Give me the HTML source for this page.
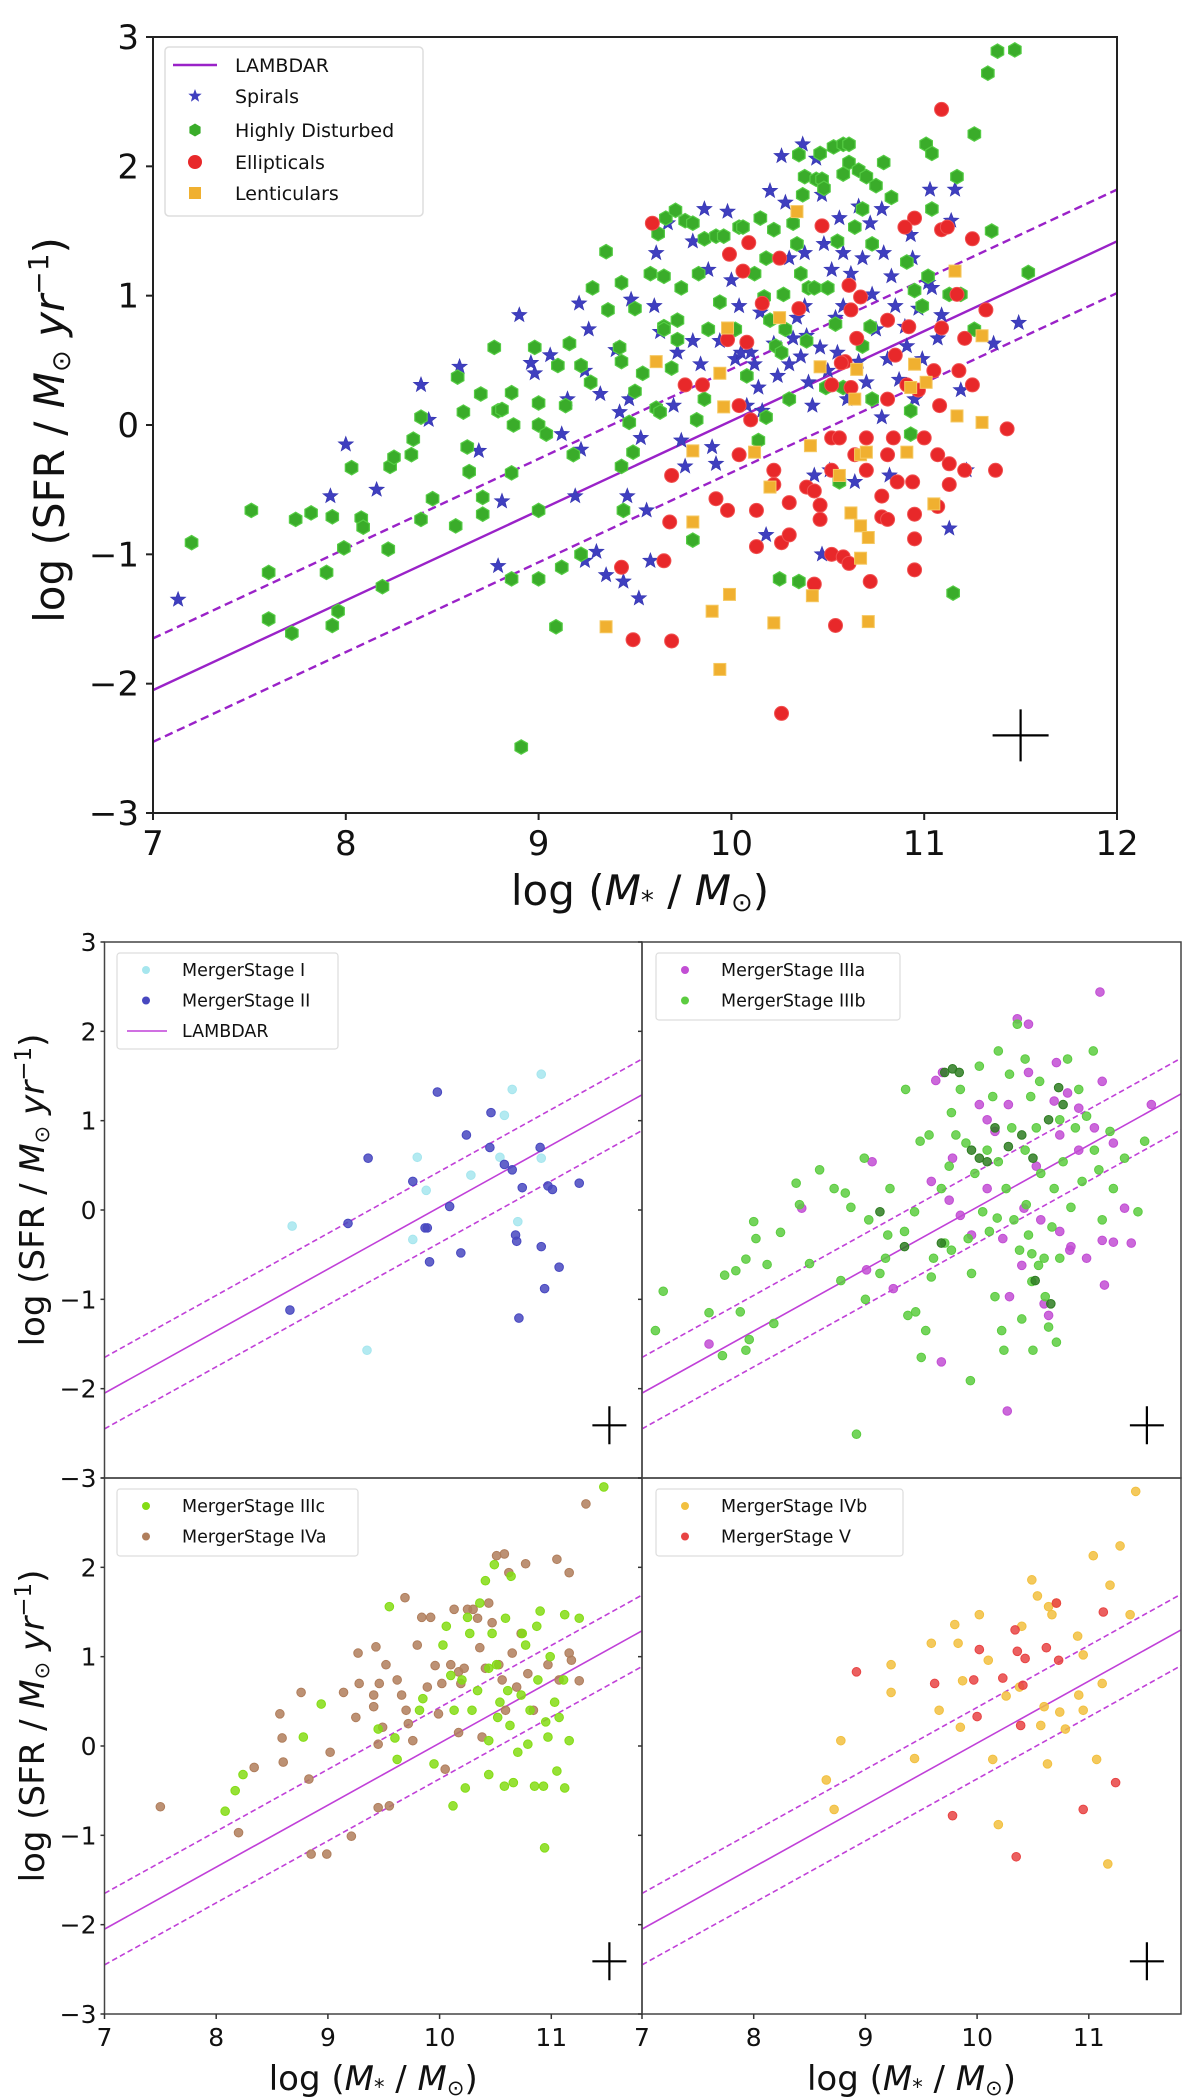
<!DOCTYPE html>
<html><head><meta charset="utf-8"><style>
html,body{margin:0;padding:0;background:#fff;}
svg{display:block;font-family:"DejaVu Sans","Liberation Sans",sans-serif;}
</style></head><body>
<svg id="fig" width="1200" height="2098" viewBox="0 0 1200 2098" xmlns="http://www.w3.org/2000/svg"></svg>
<script>
// ===== Top panel data (log M*, log SFR) =====
const spirals=[[7.13,-1.35],[7.92,-0.55],[8.00,-0.15],[8.16,-0.50],[8.39,0.31],[8.43,0.04],[8.59,0.45],[8.69,-0.20],[8.79,-1.09],[8.81,-0.59],[8.90,0.85],[8.96,0.48],[8.98,0.40],[9.06,0.54],[9.12,-0.07],[9.15,0.20],[9.19,-0.55],[9.21,0.94],[9.22,-0.19],[9.24,0.42],[9.24,-1.05],[9.26,0.74],[9.30,-0.98],[9.32,0.24],[9.35,-1.16],[9.40,0.58],[9.42,0.10],[9.44,-1.21],[9.46,-0.55],[9.47,0.20],[9.48,0.97],[9.52,-1.34],[9.53,-0.10],[9.56,-0.66],[9.58,-1.05],[9.60,0.92],[9.61,1.33],[9.63,0.72],[9.67,1.56],[9.70,0.15],[9.72,0.56],[9.74,-0.12],[9.76,-0.32],[9.80,1.42],[9.80,0.65],[9.84,0.47],[9.86,1.67],[9.88,1.20],[9.90,-0.17],[9.92,-0.30],[9.94,0.65],[9.98,1.65],[10.0,1.12],[10.02,0.51],[10.04,0.92],[10.05,0.56],[10.08,0.15],[10.10,0.56],[10.12,0.47],[10.14,0.29],[10.15,0.87],[10.16,0.11],[10.20,1.81],[10.22,0.63],[10.24,0.38],[10.26,2.08],[10.28,1.72],[10.30,1.29],[10.30,0.47],[10.32,0.67],[10.34,0.83],[10.36,0.53],[10.37,2.17],[10.38,1.33],[10.38,0.92],[10.39,0.69],[10.40,0.33],[10.42,0.15],[10.44,2.06],[10.46,0.60],[10.47,1.78],[10.48,1.40],[10.50,0.42],[10.51,-0.35],[10.52,1.20],[10.54,0.83],[10.55,0.56],[10.56,1.60],[10.58,1.33],[10.58,0.92],[10.60,0.20],[10.62,1.17],[10.64,-0.44],[10.66,1.69],[10.66,0.49],[10.68,1.29],[10.70,0.33],[10.72,1.56],[10.73,1.01],[10.75,0.74],[10.78,1.67],[10.78,0.06],[10.79,1.33],[10.81,0.51],[10.82,-0.39],[10.83,1.15],[10.85,0.92],[10.87,0.35],[10.90,0.76],[10.91,0.61],[10.93,1.47],[10.94,1.29],[10.95,0.20],[10.97,0.90],[10.99,0.51],[11.02,1.10],[11.03,1.82],[11.04,1.06],[11.07,0.67],[11.09,0.85],[11.13,-0.80],[11.14,1.58],[11.16,1.82],[11.19,0.27],[11.22,-0.35],[11.36,0.63],[11.49,0.79],[10.18,-0.85],[10.47,-1.00],[10.43,-0.39]];
const disturbed=[[7.20,-0.91],[7.51,-0.66],[7.60,-1.14],[7.60,-1.50],[7.74,-0.73],[7.72,-1.61],[7.82,-0.68],[7.90,-1.14],[7.93,-0.71],[7.93,-1.55],[7.96,-1.44],[7.99,-0.95],[8.03,-0.33],[8.08,-0.72],[8.09,-0.79],[8.19,-1.25],[8.22,-0.96],[8.23,-0.32],[8.25,-0.25],[8.34,-0.23],[8.35,-0.11],[8.39,0.06],[8.39,-0.73],[8.45,-0.57],[8.57,-0.78],[8.58,0.37],[8.61,0.10],[8.63,-0.17],[8.64,-0.36],[8.70,0.24],[8.71,-0.69],[8.71,-0.56],[8.77,0.60],[8.79,0.11],[8.81,0.12],[8.86,-1.19],[8.86,0.25],[8.86,-0.37],[8.87,0.00],[8.91,-2.49],[8.98,0.60],[9.0,0.17],[9.0,-0.66],[9.0,0.0],[9.0,-1.19],[9.04,-0.07],[9.09,-1.56],[9.10,0.46],[9.12,-1.10],[9.14,0.15],[9.16,0.63],[9.18,-0.23],[9.22,-1.0],[9.22,0.46],[9.27,0.33],[9.28,1.06],[9.35,1.34],[9.36,0.89],[9.42,0.60],[9.43,0.49],[9.43,-0.32],[9.43,1.10],[9.44,-0.66],[9.47,0.02],[9.49,-0.21],[9.50,0.90],[9.50,0.26],[9.54,0.40],[9.58,1.17],[9.61,0.13],[9.63,0.10],[9.62,1.48],[9.65,0.76],[9.65,1.15],[9.65,0.74],[9.66,1.60],[9.69,0.44],[9.71,1.66],[9.72,0.81],[9.72,0.66],[9.74,1.06],[9.76,1.58],[9.80,1.56],[9.80,-0.89],[9.82,0.04],[9.83,1.17],[9.86,1.44],[9.86,0.20],[9.88,0.74],[9.92,1.46],[9.94,0.95],[9.96,1.46],[10.02,0.74],[10.04,1.53],[10.06,1.53],[10.08,0.38],[10.12,1.17],[10.14,-0.12],[10.15,1.60],[10.17,0.99],[10.18,0.06],[10.18,1.29],[10.20,0.81],[10.22,1.51],[10.23,0.61],[10.25,-1.19],[10.26,0.56],[10.27,1.01],[10.28,0.74],[10.30,0.20],[10.32,1.56],[10.34,1.40],[10.35,2.09],[10.35,-1.21],[10.36,1.17],[10.38,1.92],[10.37,1.78],[10.39,0.65],[10.40,1.06],[10.43,1.06],[10.44,1.90],[10.46,2.10],[10.47,1.90],[10.48,1.83],[10.49,0.29],[10.50,1.06],[10.53,2.15],[10.54,0.78],[10.55,1.42],[10.56,-0.44],[10.58,1.94],[10.58,0.29],[10.58,2.17],[10.61,2.03],[10.61,2.17],[10.64,1.53],[10.66,1.97],[10.68,1.67],[10.68,0.61],[10.70,1.92],[10.72,0.76],[10.73,1.40],[10.75,1.85],[10.73,0.20],[10.79,2.03],[10.83,1.76],[10.91,1.26],[10.93,0.11],[10.95,1.04],[10.99,0.92],[10.93,-0.07],[11.01,2.17],[11.02,1.15],[11.04,2.10],[11.04,1.67],[11.13,1.01],[11.17,1.92],[11.19,1.01],[11.15,-1.30],[11.26,2.25],[11.26,0.74],[11.33,2.72],[11.35,1.50],[11.38,2.89],[11.47,2.90],[11.54,1.18]];
const ellipticals=[[9.59,1.56],[11.09,2.44],[10.09,1.41],[9.99,1.32],[10.06,1.19],[10.25,1.29],[10.47,1.54],[10.35,0.90],[10.16,0.94],[10.62,0.89],[10.67,0.99],[10.61,1.08],[10.95,1.60],[10.90,1.53],[11.09,1.51],[11.12,1.53],[11.25,1.44],[11.17,1.01],[11.32,0.89],[10.81,0.81],[10.92,0.76],[11.09,0.75],[9.98,0.66],[10.08,0.64],[10.65,0.67],[10.59,0.49],[10.57,0.48],[10.85,0.54],[11.05,0.42],[11.18,0.42],[11.21,0.67],[9.76,0.31],[9.85,0.31],[10.52,0.31],[10.62,0.29],[10.91,0.31],[10.97,0.27],[10.81,0.20],[11.08,0.15],[11.25,0.31],[10.04,0.15],[10.10,0.04],[11.43,-0.03],[10.04,-0.23],[10.52,-0.10],[10.56,-0.10],[10.70,-0.10],[10.84,-0.10],[11.00,-0.10],[10.64,-0.23],[10.70,-0.35],[10.81,-0.23],[11.07,-0.23],[11.13,-0.30],[11.21,-0.35],[11.37,-0.35],[10.52,-0.35],[10.22,-0.35],[10.22,-0.46],[10.86,-0.44],[10.94,-0.44],[11.13,-0.46],[10.39,-0.48],[10.43,-0.51],[10.30,-0.60],[10.46,-0.62],[9.92,-0.57],[9.98,-0.66],[10.13,-0.66],[10.78,-0.55],[10.95,-0.69],[11.07,-0.63],[10.46,-0.73],[10.78,-0.71],[10.81,-0.73],[9.68,-0.75],[9.69,-0.39],[10.26,-0.91],[10.30,-0.85],[10.13,-0.94],[10.95,-0.88],[10.52,-1.0],[10.58,-1.02],[10.61,-1.07],[9.65,-1.05],[9.43,-1.10],[10.95,-1.12],[10.72,-1.21],[10.43,-1.23],[10.54,-1.55],[9.49,-1.66],[9.69,-1.67],[10.26,-2.23]];
const lenticulars=[[10.34,1.65],[11.16,1.19],[9.98,0.75],[10.25,0.83],[11.30,0.69],[9.61,0.49],[9.94,0.40],[10.46,0.45],[10.65,0.43],[10.95,0.47],[10.64,0.20],[10.93,0.29],[11.01,0.33],[9.96,0.14],[11.17,0.07],[11.30,0.02],[9.80,-0.20],[10.12,-0.21],[10.41,-0.16],[10.67,-0.23],[10.70,-0.21],[10.91,-0.21],[10.56,-0.39],[10.20,-0.48],[11.05,-0.61],[10.62,-0.68],[10.67,-0.78],[10.71,-0.87],[9.80,-0.75],[10.67,-1.03],[9.99,-1.31],[10.42,-1.32],[9.90,-1.44],[9.35,-1.56],[10.22,-1.53],[10.71,-1.52],[9.94,-1.89]];
// ===== Merger stage panels =====
const stageI=[[8.68,-0.18],[9.35,-1.57],[9.80,0.59],[9.88,0.22],[9.76,-0.33],[10.28,0.39],[10.58,1.06],[10.65,1.35],[10.91,1.52],[10.70,-0.13],[10.91,0.58],[10.54,0.59]];
const stageII=[[8.66,-1.12],[9.18,-0.15],[9.36,0.58],[9.76,0.32],[9.98,1.32],[9.87,-0.20],[9.89,-0.20],[9.91,-0.58],[10.09,0.04],[10.19,-0.48],[10.24,0.84],[10.46,1.09],[10.45,0.70],[10.58,0.51],[10.65,0.45],[10.74,0.25],[10.68,-0.28],[10.69,-0.35],[10.71,-1.21],[10.90,0.70],[10.91,-0.41],[10.94,-0.88],[10.97,0.27],[11.01,0.23],[11.07,-0.64],[11.25,0.30]];
const stageIIIa=[[11.10,2.44],[10.36,2.14],[10.46,2.08],[9.63,1.45],[9.69,1.54],[10.02,1.18],[10.09,1.01],[10.16,0.88],[10.28,1.18],[10.46,1.54],[10.71,1.65],[10.81,1.31],[10.91,1.14],[11.12,1.44],[11.05,0.92],[11.22,0.75],[11.56,1.18],[9.06,0.54],[9.59,0.32],[9.75,0.11],[9.85,-0.06],[9.95,-0.28],[10.09,0.24],[10.23,-0.32],[10.42,0.02],[10.57,-0.11],[10.74,-0.24],[10.84,-0.41],[10.98,-0.54],[11.12,-0.34],[11.22,-0.36],[11.38,-0.37],[11.32,0.02],[10.29,-0.97],[10.40,-0.62],[10.60,-1.05],[10.64,-1.18],[10.83,-0.45],[11.14,-0.84],[9.68,-1.70],[10.27,-2.25],[9.25,-0.88],[9.01,-0.67],[8.43,0.02],[7.60,-1.50],[9.78,0.58],[10.74,0.84],[10.91,0.67],[10.53,0.49],[10.69,1.22]];
const stageIIIb=[[7.19,-0.91],[7.12,-1.35],[7.60,-1.15],[7.72,-1.63],[7.74,-0.73],[7.84,-0.68],[7.93,-0.55],[7.88,-1.14],[7.93,-1.57],[7.96,-1.45],[8.0,-0.13],[8.02,-0.32],[8.18,-1.27],[8.12,-0.61],[8.24,-0.25],[8.38,0.30],[8.41,0.06],[8.59,0.45],[8.50,-0.60],[8.72,0.24],[8.82,0.19],[8.87,0.03],[8.92,-2.51],[8.99,0.58],[8.78,-0.79],[9.13,-0.71],[9.18,-0.54],[9.22,0.24],[9.35,-0.24],[9.36,1.35],[9.38,-1.18],[9.45,-1.14],[9.50,-1.65],[9.54,-1.35],[9.44,-0.02],[9.49,0.77],[9.57,0.84],[9.61,-0.54],[9.68,0.24],[9.71,-0.37],[9.75,0.49],[9.77,1.09],[9.81,0.84],[9.85,1.35],[9.90,0.75],[9.94,-1.91],[9.95,-0.71],[9.98,0.41],[10.02,1.61],[10.05,-0.02],[10.09,0.67],[10.14,1.27],[10.16,-0.97],[10.19,1.78],[10.19,0.54],[10.22,-1.35],[10.24,-1.57],[10.26,0.24],[10.29,1.52],[10.31,0.92],[10.33,-0.11],[10.36,2.08],[10.38,-0.45],[10.40,-1.22],[10.43,1.69],[10.43,0.67],[10.44,0.06],[10.48,1.27],[10.49,-0.49],[10.50,-1.57],[10.53,0.92],[10.55,-0.62],[10.56,1.44],[10.57,0.41],[10.61,-0.97],[10.64,-1.31],[10.67,-0.19],[10.69,0.24],[10.71,-1.48],[10.74,1.01],[10.77,0.54],[10.81,1.69],[10.84,0.03],[10.88,0.92],[10.91,1.35],[10.94,0.32],[10.98,1.05],[11.04,1.78],[11.05,0.67],[11.09,0.45],[11.12,-0.11],[11.19,0.88],[11.22,0.24],[11.32,0.58],[11.44,-0.02],[11.50,0.77],[9.59,-0.75],[9.20,-0.28],[9.00,-1.00],[9.03,-0.11],[9.77,-0.45],[9.92,-0.32],[10.11,-0.24],[10.46,-0.28],[10.60,-0.54],[10.74,-0.54],[10.18,-0.09],[10.49,-0.80]];
const stageIIIbOverlap=[[9.71,1.54],[9.78,1.58],[9.84,1.54],[9.95,0.67],[10.02,0.58],[10.16,0.92],[10.28,0.71],[10.40,0.84],[10.50,0.58],[10.64,1.01],[10.77,1.18],[10.73,1.37],[10.52,-0.79],[10.66,-1.05],[9.13,-0.02],[9.35,-0.41],[9.68,-0.37],[10.09,0.54]];
const stageIIIc=[[11.47,2.90],[8.08,-0.73],[8.17,-0.50],[8.24,-0.32],[8.78,0.10],[8.94,0.47],[9.45,0.19],[9.55,1.56],[9.60,0.09],[9.62,-0.15],[9.82,0.40],[9.85,0.53],[10.03,1.13],[10.06,1.34],[10.10,0.79],[10.12,-0.67],[10.13,0.40],[10.20,0.74],[10.23,-0.47],[10.25,1.44],[10.27,1.26],[10.29,0.40],[10.34,0.62],[10.36,1.60],[10.41,1.85],[10.44,-0.32],[10.44,0.87],[10.47,1.26],[10.49,2.03],[10.51,0.91],[10.52,0.32],[10.54,0.49],[10.58,-0.45],[10.59,1.43],[10.61,0.62],[10.63,0.23],[10.64,1.90],[10.66,-0.41],[10.70,-0.07],[10.73,0.57],[10.74,1.26],[10.77,1.13],[10.79,0.02],[10.81,0.40],[10.85,-0.45],[10.87,1.34],[10.88,0.74],[10.90,1.51],[10.93,-0.45],[10.94,-1.14],[10.95,0.27],[10.97,0.10],[10.99,1.0],[11.03,0.49],[11.05,-0.28],[11.07,0.32],[11.11,0.74],[11.12,-0.47],[11.16,0.06],[11.25,1.43],[11.12,1.47],[9.95,-0.20],[10.44,0.06]];
const stageIVa=[[7.50,-0.68],[8.20,-0.97],[8.34,-0.24],[8.57,0.36],[8.59,0.09],[8.60,-0.18],[8.76,0.60],[8.83,-0.37],[8.85,-1.21],[8.99,-1.21],[9.02,-0.07],[9.14,0.60],[9.21,-1.01],[9.25,0.32],[9.27,1.04],[9.41,0.57],[9.41,0.44],[9.43,1.11],[9.45,0.02],[9.46,0.70],[9.49,0.21],[9.52,0.91],[9.55,-0.67],[9.62,0.74],[9.66,0.57],[9.69,1.66],[9.70,0.40],[9.72,0.25],[9.80,1.13],[9.84,1.44],[9.89,0.66],[9.92,1.44],[9.96,0.90],[9.99,0.36],[10.02,0.70],[10.05,-0.26],[10.10,0.91],[10.13,1.53],[10.17,0.83],[10.17,0.15],[10.19,0.70],[10.22,0.87],[10.25,1.53],[10.30,1.53],[10.34,1.43],[10.36,1.10],[10.38,0.10],[10.41,0.87],[10.44,1.60],[10.47,1.38],[10.51,2.13],[10.53,0.91],[10.56,0.74],[10.58,2.15],[10.59,0.40],[10.62,1.94],[10.65,1.04],[10.69,0.66],[10.73,1.26],[10.77,2.04],[10.79,0.81],[10.84,0.40],[10.97,0.91],[11.05,2.09],[11.16,1.94],[11.16,1.04],[11.18,0.96],[11.25,0.73],[11.31,2.71],[11.07,0.74],[9.28,0.70],[9.76,0.06],[9.45,-0.69]];
const stageIVb=[[8.65,-0.38],[8.72,-0.71],[8.78,0.06],[9.23,0.91],[9.23,0.60],[9.44,-0.14],[9.59,1.15],[9.66,0.40],[9.80,1.36],[9.83,1.15],[9.85,0.21],[9.87,0.73],[10.02,1.47],[10.10,0.96],[10.14,-0.15],[10.19,-0.88],[10.26,0.56],[10.38,0.66],[10.40,1.34],[10.49,1.86],[10.54,1.68],[10.57,0.23],[10.60,0.44],[10.63,-0.20],[10.64,1.56],[10.67,1.47],[10.71,1.60],[10.74,0.38],[10.79,0.19],[10.90,1.23],[10.91,0.57],[10.95,1.02],[10.95,0.40],[11.04,2.13],[11.07,-0.15],[11.12,0.70],[11.17,-1.32],[11.19,1.80],[11.28,2.24],[11.37,1.47],[11.42,2.85]];
const stageV=[[8.92,0.83],[9.62,0.70],[9.78,-0.78],[9.97,0.74],[10.02,1.08],[10.0,0.33],[10.23,0.76],[10.34,1.30],[10.36,1.06],[10.35,-1.24],[10.39,0.23],[10.43,0.98],[10.62,1.10],[10.71,1.60],[10.73,0.96],[11.13,1.50],[10.95,-0.71],[11.24,-0.41],[10.41,0.68]];
// Relation and error bar
const lambdarIntercept=-2.05, lambdarSlope=0.694, lambdarScatter=0.4;
const errX=[11.5,11.52], errY=[-2.4,-2.41];
const xTicksTop=[7,8,9,10,11,12];
const yTicks=[-3,-2,-1,0,1,2,3];
const xTicksLow=[7,8,9,10,11];

const NS="http://www.w3.org/2000/svg";
const svg=document.getElementById('fig');
function el(tag,attrs,parent){const e=document.createElementNS(NS,tag);for(const k in attrs)e.setAttribute(k,attrs[k]);(parent||svg).appendChild(e);return e;}
function txt(s,attrs,parent){const e=el('text',attrs,parent);e.textContent=s;return e;}

function makeAxes(o){ // o: left, right, top, bottom, xmin, xmax, ymin, ymax
  o.sx=x=>o.left+(x-o.xmin)/(o.xmax-o.xmin)*(o.right-o.left);
  o.sy=y=>o.bottom-(y-o.ymin)/(o.ymax-o.ymin)*(o.bottom-o.top);
  return o;
}
function drawLines(ax,g,sw,col){
  const x0=ax.xmin,x1=ax.xmax;
  const f=x=>lambdarIntercept+lambdarSlope*(x-7);
  let l=el('line',{x1:ax.sx(x0),y1:ax.sy(f(x0)),x2:ax.sx(x1),y2:ax.sy(f(x1)),stroke:col,'stroke-width':sw},g);
  
  for(const d of [lambdarScatter,-lambdarScatter]){
    let m=el('line',{x1:ax.sx(x0),y1:ax.sy(f(x0)+d),x2:ax.sx(x1),y2:ax.sy(f(x1)+d),stroke:col,'stroke-width':sw,'stroke-dasharray':(sw*3.5)+','+(sw*2)},g);
    
    
  }
}
function drawCross(ax,cx,cy,hw,hh,g){
  const x=ax.sx(cx),y=ax.sy(cy);
  const c=el('path',{d:`M${x-hw},${y}H${x+hw}M${x},${y-hh}V${y+hh}`,stroke:'#000','stroke-width':2.2,fill:'none'},g);
  
}
function star(x,y,r){let p=[];for(let i=0;i<10;i++){const a=-Math.PI/2+i*Math.PI/5;const rr=i%2?r*0.42:r;p.push((x+rr*Math.cos(a)).toFixed(1)+','+(y+rr*Math.sin(a)).toFixed(1));}return p.join(' ');}
function hexa(x,y,r){let p=[];for(let i=0;i<6;i++){const a=Math.PI/2+i*Math.PI/3;p.push((x+r*Math.cos(a)).toFixed(1)+','+(y+r*Math.sin(a)).toFixed(1));}return p.join(' ');}

// ===== Top panel =====
const A=makeAxes({left:153,right:1117,top:37,bottom:813,xmin:7,xmax:12,ymin:-3,ymax:3});
const gTop=el('g',{});

drawLines(A,gTop,2.4,'#9a22c8');
const gS=el('g',{fill:'#3f3fbf',stroke:'#3535b0','stroke-width':0.6},gTop);

spirals.forEach(p=>{const e=el('polygon',{points:star(A.sx(p[0]),A.sy(p[1]),8)},gS);});
const gD=el('g',{fill:'#3aac2a',stroke:'#55cc44','stroke-width':1.2},gTop);

disturbed.forEach(p=>{const e=el('polygon',{points:hexa(A.sx(p[0]),A.sy(p[1]),7.2)},gD);});
const gE=el('g',{fill:'#e8282a',stroke:'#f05050','stroke-width':1},gTop);

ellipticals.forEach(p=>{const e=el('circle',{cx:A.sx(p[0]),cy:A.sy(p[1]),r:7},gE);});
const gL=el('g',{fill:'#f0b030',stroke:'#f5c860','stroke-width':1},gTop);

lenticulars.forEach(p=>{const e=el('rect',{x:A.sx(p[0])-6,y:A.sy(p[1])-6,width:12,height:12},gL);});
drawCross(A,errX[0],errY[0],28,26,gTop);
let fr=el('rect',{x:A.left,y:A.top,width:A.right-A.left,height:A.bottom-A.top,fill:'none',stroke:'#222','stroke-width':2},gTop);

xTicksTop.forEach(t=>{const x=A.sx(t);el('line',{x1:x,y1:A.bottom,x2:x,y2:A.bottom+7,stroke:'#222','stroke-width':2},gTop);
  const e=txt(String(t),{x:x,y:A.bottom+42,'font-size':34,'text-anchor':'middle',fill:'#111'},gTop);});
yTicks.forEach(t=>{const y=A.sy(t);el('line',{x1:A.left-7,y1:y,x2:A.left,y2:y,stroke:'#222','stroke-width':2},gTop);
  const e=txt(String(t).replace('-','\u2212'),{x:A.left-14,y:y+12,'font-size':34,'text-anchor':'end',fill:'#111'},gTop);});
let xl=txt('',{x:640,y:905,'font-size':42,'text-anchor':'middle',fill:'#111'},gTop);
xl.innerHTML='log (<tspan font-style="italic">M</tspan><tspan font-size="26" dy="4">*</tspan><tspan dy="-4"> / </tspan><tspan font-style="italic">M</tspan><tspan font-size="26" dy="6">⊙</tspan><tspan dy="-6">)</tspan>';

let yl=txt('',{x:0,y:0,'font-size':42,'text-anchor':'middle',fill:'#111',transform:'translate(64,430) rotate(-90)'},gTop);
yl.innerHTML='log (SFR / <tspan font-style="italic">M</tspan><tspan font-size="26" dy="6">⊙</tspan><tspan dy="-6" font-style="italic"> yr</tspan><tspan font-size="28" dy="-16">−1</tspan><tspan dy="16">)</tspan>';

// legend
const lg=el('g',{},gTop);
el('rect',{x:165,y:47,width:258,height:169,rx:4,fill:'#fff',stroke:'#ddd','stroke-width':1.5},lg);
const ly=[65,96,130,162,193];
el('line',{x1:173,y1:ly[0],x2:217,y2:ly[0],stroke:'#9a22c8','stroke-width':2.4},lg);
el('polygon',{points:star(195,ly[1],7),fill:'#3f3fbf'},lg);
el('polygon',{points:hexa(195,ly[2],6.5),fill:'#3aac2a'},lg);
el('circle',{cx:195,cy:ly[3],r:7,fill:'#e8282a'},lg);
el('rect',{x:189,y:ly[4]-6,width:12,height:12,fill:'#f0b030'},lg);
['LAMBDAR','Spirals','Highly Disturbed','Ellipticals','Lenticulars'].forEach((s,i)=>{const e=txt(s,{x:235,y:ly[i]+7,'font-size':19,fill:'#111'},lg);});

// ===== Lower 2x2 panels =====
const PL=104.5, PM=642, PR=1181, YT=942, YM=1478, YB=2014;
const panels=[
 {name:'panel-stage-i-ii',left:PL,right:PM,top:YT,bottom:YM,series:[[stageI,'#a6e6ee'],[stageII,'#4848c0']],labels:['MergerStage I','MergerStage II','LAMBDAR'],legendX:117,legendW:221,yLab:true,yTop:3,xLab:false},
 {name:'panel-stage-iiia-iiib',left:PM,right:PR,top:YT,bottom:YM,series:[[stageIIIa,'#c24ed4'],[stageIIIb,'#5ccc40'],[stageIIIbOverlap,'#2e7d22']],labels:['MergerStage IIIa','MergerStage IIIb'],legendX:656,legendW:244,yLab:false,xLab:false},
 {name:'panel-stage-iiic-iva',left:PL,right:PM,top:YM,bottom:YB,series:[[stageIVa,'#b07e5c'],[stageIIIc,'#84dc14']],labels:['MergerStage IIIc','MergerStage IVa'],legendCols:['#84dc14','#b07e5c'],legendX:117,legendW:241,yLab:true,yTop:2,xLab:true},
 {name:'panel-stage-ivb-v',left:PM,right:PR,top:YM,bottom:YB,series:[[stageIVb,'#f2c040'],[stageV,'#e84444']],labels:['MergerStage IVb','MergerStage V'],legendX:656,legendW:247,yLab:false,xLab:true}
];
panels.forEach(P=>{
  const ax=makeAxes({left:P.left,right:P.right,top:P.top,bottom:P.bottom,xmin:7,xmax:7+(P.right-P.left)/111.7,ymin:-3,ymax:3});
  const g=el('g',{});
  drawLines(ax,g,1.6,'#c040d8');
  P.series.forEach(([data,col])=>{
    const gs=el('g',{fill:col,stroke:col,'stroke-width':1,'fill-opacity':0.85},g);
    
    data.forEach(p=>{const e=el('circle',{cx:ax.sx(p[0]),cy:ax.sy(p[1]),r:4.3},gs);});
  });
  drawCross(ax,errX[1],errY[1],17,19,g);
  const f=el('rect',{x:ax.left,y:ax.top,width:ax.right-ax.left,height:ax.bottom-ax.top,fill:'none',stroke:'#444','stroke-width':1.5},g);
  
  yTicks.forEach(t=>{const y=ax.sy(t);el('line',{x1:ax.left-4,y1:y,x2:ax.left,y2:y,stroke:'#333','stroke-width':1.5},g);
    if(P.yLab&&t<=P.yTop){const e=txt(String(t).replace('-','\u2212'),{x:ax.left-8,y:y+9,'font-size':25,'text-anchor':'end',fill:'#111'},g);}});
  if(P.xLab){xTicksLow.forEach(t=>{const x=ax.sx(t);el('line',{x1:x,y1:ax.bottom,x2:x,y2:ax.bottom+5,stroke:'#333','stroke-width':1.5},g);
    const e=txt(String(t),{x:x,y:ax.bottom+32,'font-size':25,'text-anchor':'middle',fill:'#111'},g);});
    const xt=txt('',{x:(ax.left+ax.right)/2,y:2090,'font-size':34,'text-anchor':'middle',fill:'#111'},g);
    xt.innerHTML='log (<tspan font-style="italic">M</tspan><tspan font-size="21" dy="4">*</tspan><tspan dy="-4"> / </tspan><tspan font-style="italic">M</tspan><tspan font-size="21" dy="5">⊙</tspan><tspan dy="-5">)</tspan>';
    }
  if(P.yLab){const yt=txt('',{x:0,y:0,'font-size':34,'text-anchor':'middle',fill:'#111',transform:`translate(44,${(ax.top+ax.bottom)/2-20}) rotate(-90)`},g);
    yt.innerHTML='log (SFR / <tspan font-style="italic">M</tspan><tspan font-size="21" dy="5">⊙</tspan><tspan dy="-5" font-style="italic"> yr</tspan><tspan font-size="23" dy="-13">−1</tspan><tspan dy="13">)</tspan>';
    }
  const lgg=el('g',{},g);
  const n=P.labels.length;
  el('rect',{x:P.legendX,y:P.top+11,width:P.legendW,height:n===3?96:67,rx:3,fill:'#fff',stroke:'#ddd','stroke-width':1.2},lgg);
  P.labels.forEach((s,i)=>{const y=P.top+28+i*30.5;
    if(s==='LAMBDAR')el('line',{x1:P.legendX+10,y1:y,x2:P.legendX+50,y2:y,stroke:'#c040d8','stroke-width':1.6},lgg);
    else{const col=P.legendCols?P.legendCols[i]:P.series[i][1];el('circle',{cx:P.legendX+29,cy:y,r:4,fill:col},lgg);}
    const e=txt(s,{x:P.legendX+65,y:y+6,'font-size':17.5,fill:'#111'},lgg);});
});
</script>
</body></html>
